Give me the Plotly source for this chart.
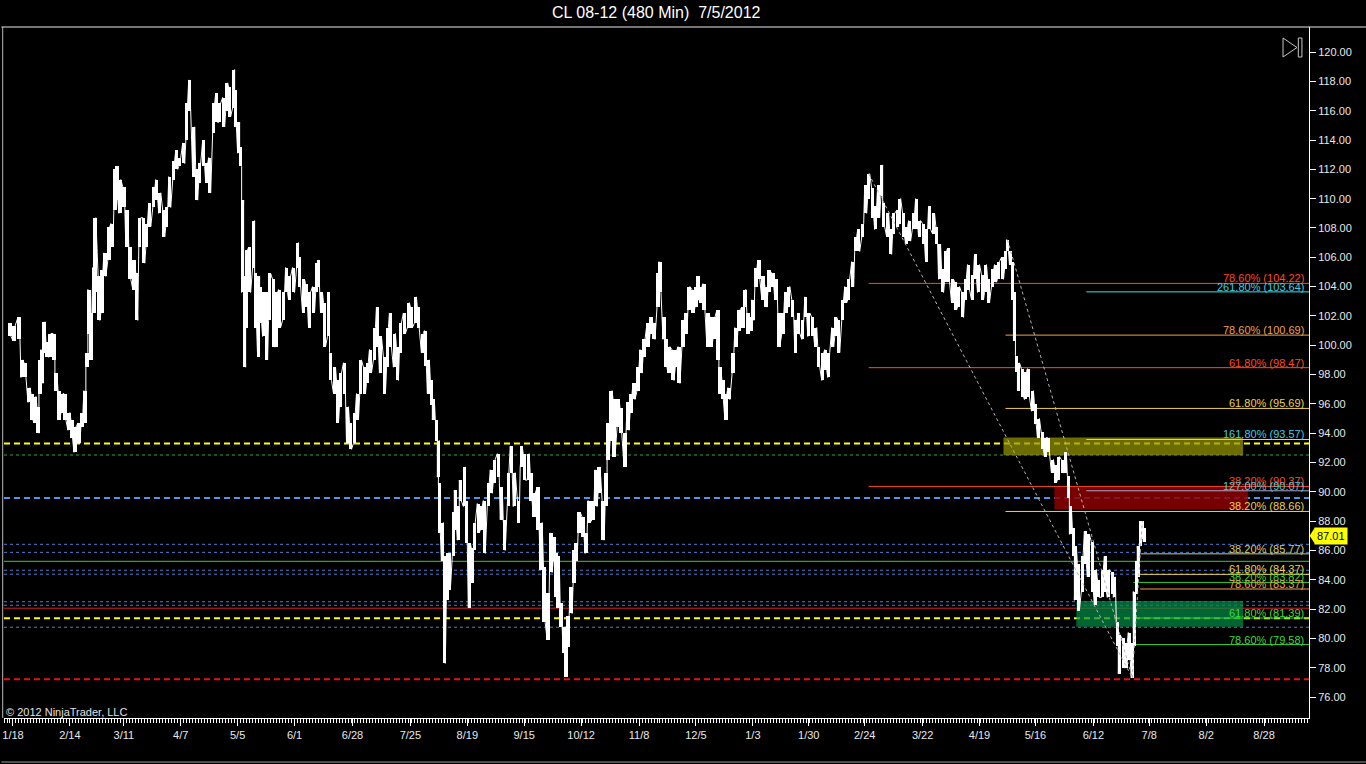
import plotly.graph_objects as go

# --- datos: barras de 480 min (indice de barra, maximo, minimo) ---
bars = [8, 12, 17, 20, 23, 27, 30, 33, 36, 38, 40, 42, 45, 48, 52, 54, 57, 60, 63, 67,
        70, 73, 77, 80, 83, 85, 87, 89, 92, 93, 97, 100, 103, 107, 110, 113, 115, 118, 122, 125,
        128, 132, 135, 138, 142, 145, 148, 152, 155, 158, 162, 165, 168, 172, 175, 178, 182, 185, 188, 192,
        195, 198, 202, 205, 208, 212, 215, 218,
        222, 225, 228, 232, 234, 237, 239, 241, 243, 245, 248, 252, 254, 257, 259, 262, 265, 268, 272, 275,
        278, 282, 285, 288, 292, 296, 298, 302, 305, 308, 312, 315, 317, 320, 323, 327, 329, 333, 336, 339,
        343, 346, 349, 353, 356, 359, 363, 366, 369, 373, 376, 379, 383, 386, 389, 393, 396, 399, 403, 407,
        410, 414, 417, 421, 424, 427, 430, 432, 435, 437,
        438, 441, 443, 446, 448, 452, 454, 457, 459, 463, 465, 468, 471, 473, 477, 480, 483, 487, 490, 493,
        497, 500, 503, 507, 510, 513, 517, 520, 523, 527, 530, 533, 537, 540, 543, 547, 550, 553, 555, 557,
        560, 563, 565, 567, 570, 573, 575, 578, 582, 585, 588, 592, 595, 598, 602, 605, 607, 610, 613, 617,
        620, 624, 627, 630, 633, 637, 640, 643, 647, 650, 653, 657, 659,
        663, 665, 668, 672, 675, 678, 682, 685, 688, 692, 695, 697, 700, 703, 707, 710, 713, 717, 719, 722,
        725, 728, 732, 735, 738, 742, 744, 747, 750, 752, 755, 758, 762, 765, 768, 772, 775, 778, 782, 785,
        788, 792, 795, 798, 802, 805, 808, 812, 815, 818, 822, 825, 828, 832, 835, 838, 842, 845, 848, 852,
        855, 858,
        862, 865, 868, 872, 875, 878, 881, 883, 887, 890, 893, 897, 899, 903, 906, 909, 913, 916, 919, 923,
        926, 929, 933, 936, 939, 942, 945, 948, 952, 955, 958, 962, 965, 968, 972, 975, 978, 982, 985, 988,
        992, 995, 998, 1002, 1005, 1007, 1010, 1012, 1014, 1016, 1018, 1022, 1025, 1028, 1032, 1035, 1038, 1042, 1045, 1048,
        1052, 1055, 1058, 1062, 1065, 1068, 1070, 1073, 1075, 1078, 1082, 1085, 1088, 1092, 1095, 1098, 1102, 1105, 1108, 1112,
        1114, 1117, 1119, 1123, 1126, 1129, 1132, 1134, 1136, 1138, 1140, 1142, 1144]

highs = [101.5, 101.3, 101.9, 99.0, 98.8, 97.1, 96.7, 96.5, 95.8, 99.0, 99.7, 101.6, 100.2, 100.8, 100.8, 98.1, 96.9, 96.7, 96.7, 95.4,
         94.9, 94.4, 94.7, 95.4, 96.9, 99.5, 103.8, 102.2, 105.3, 108.7, 104.7, 105.1, 106.3, 108.1, 108.3, 112.0, 112.2, 111.3, 110.8, 109.2,
         106.7, 105.8, 104.9, 108.7, 108.7, 108.3, 109.7, 110.8, 111.3, 110.4, 109.2, 109.4, 111.5, 112.6, 113.3, 112.8, 113.8, 116.5, 118.1, 114.9,
         112.0, 112.4, 114.0, 112.4, 112.8, 116.5, 117.2, 116.5,
         116.9, 117.9, 117.6, 118.8, 117.4, 115.2, 113.5, 109.9, 104.7, 106.5, 106.7, 108.5, 104.9, 104.7, 104.0, 103.6, 103.6, 104.9, 104.5, 103.6,
         103.8, 103.6, 105.3, 104.7, 105.3, 107.0, 106.0, 104.5, 104.2, 103.6, 104.0, 105.6, 105.8, 103.6, 102.9, 103.6, 99.5, 98.5, 97.6, 98.1,
         98.8, 95.8, 94.7, 95.4, 96.7, 99.0, 98.5, 98.8, 99.7, 101.2, 102.6, 100.6, 99.2, 101.2, 102.2, 100.8, 99.9, 101.5, 102.2, 102.9,
         102.6, 103.3, 102.6, 100.8, 101.0, 99.0, 97.6, 96.3, 94.9, 93.5,
         90.6, 87.9, 85.6, 85.8, 85.8, 88.6, 90.1, 89.0, 90.8, 91.7, 89.4, 86.5, 86.2, 87.9, 89.2, 89.0, 89.4, 90.6, 91.5, 92.2,
         92.6, 90.3, 88.1, 91.3, 93.1, 91.3, 89.4, 93.1, 92.6, 92.6, 91.3, 89.9, 90.3, 87.9, 84.9, 83.1, 87.2, 86.9, 85.8, 85.6,
         82.4, 80.8, 79.9, 81.5, 83.5, 86.0, 86.5, 88.6, 88.3, 87.2, 89.4, 89.4, 91.5, 91.7, 89.4, 91.3, 94.7, 96.9, 96.3, 96.3,
         95.7, 94.0, 96.1, 96.7, 97.4, 98.5, 99.7, 100.4, 101.5, 101.9, 101.5, 104.9, 105.7,
         101.9, 100.4, 99.9, 99.7, 99.7, 99.9, 101.7, 102.2, 104.0, 103.8, 104.0, 104.7, 104.0, 104.2, 102.2, 101.9, 101.9, 102.4, 98.5, 97.6,
         96.7, 97.1, 99.5, 101.2, 102.4, 102.6, 103.8, 102.2, 101.9, 103.1, 105.3, 105.8, 104.7, 104.0, 105.1, 104.9, 104.5, 102.2, 102.2, 103.6,
         104.0, 103.1, 101.7, 102.2, 101.7, 103.3, 102.2, 101.9, 101.2, 99.9, 99.5, 99.7, 99.5, 101.2, 101.9, 101.7, 103.1, 104.0, 104.5, 105.7,
         107.4, 107.9,
         108.3, 110.9, 111.7, 110.7, 109.5, 110.9, 112.3, 109.7, 109.0, 107.9, 109.0, 109.2, 110.0, 109.0, 108.1, 108.5, 109.0, 110.0, 108.5, 108.3,
         107.9, 109.5, 109.0, 108.1, 106.9, 105.2, 106.4, 106.6, 104.5, 104.3, 104.0, 103.6, 104.5, 105.5, 104.8, 106.2, 105.5, 104.8, 105.5, 104.5,
         105.2, 105.5, 105.7, 106.0, 106.4, 107.2, 106.4, 105.7, 103.6, 99.3, 98.8, 98.4, 98.2, 98.4, 96.9, 96.0, 95.0, 94.1, 93.7, 93.7,
         92.2, 91.8, 92.4, 92.2, 92.7, 91.1, 89.0, 87.5, 86.3, 85.1, 85.6, 87.3, 87.1, 86.6, 84.7, 84.0, 84.7, 85.6, 84.7, 84.5,
         84.2, 81.1, 80.2, 80.0, 79.7, 80.4, 79.7, 83.2, 85.3, 86.3, 88.0, 88.0, 87.5]

lows = [100.6, 100.3, 100.4, 97.8, 97.8, 96.1, 94.9, 94.7, 94.0, 96.7, 97.4, 99.5, 99.2, 99.2, 99.0, 96.9, 94.9, 95.4, 94.9, 94.2,
        93.7, 92.7, 93.3, 94.4, 94.7, 98.5, 100.8, 99.0, 102.2, 103.6, 101.7, 102.2, 104.7, 105.8, 106.7, 109.2, 109.9, 109.0, 109.4, 106.7,
        104.5, 103.8, 101.7, 106.7, 105.6, 106.7, 108.1, 109.4, 109.9, 109.0, 107.4, 108.1, 109.4, 111.3, 112.0, 112.2, 112.4, 114.0, 116.0, 111.5,
        109.9, 111.1, 112.2, 111.1, 110.4, 114.5, 115.2, 115.2,
        114.9, 116.0, 115.6, 116.2, 114.9, 113.1, 112.2, 103.6, 98.5, 101.2, 103.6, 105.3, 101.2, 99.2, 101.5, 100.6, 99.0, 101.7, 99.9, 99.9,
        101.2, 101.7, 103.6, 103.1, 103.6, 105.3, 104.0, 102.2, 102.6, 101.2, 102.2, 103.6, 104.0, 102.2, 99.9, 100.6, 97.6, 96.7, 94.7, 95.8,
        96.7, 93.3, 92.9, 93.3, 94.9, 96.7, 96.7, 97.4, 98.1, 99.0, 99.9, 98.1, 96.7, 98.5, 99.9, 98.5, 97.6, 99.5, 100.8, 101.2,
        101.2, 101.5, 101.2, 99.5, 98.6, 96.7, 95.9, 94.9, 93.5, 91.0,
        87.2, 85.3, 78.3, 82.6, 83.3, 85.6, 87.4, 86.7, 89.4, 89.0, 86.5, 82.1, 83.8, 86.0, 87.2, 87.4, 85.8, 89.0, 89.9, 90.6,
        91.0, 88.1, 86.0, 89.0, 91.3, 89.0, 87.9, 91.7, 90.8, 90.8, 89.4, 88.3, 87.4, 84.7, 81.1, 79.9, 84.5, 85.3, 82.8, 82.1,
        80.8, 79.0, 77.4, 79.4, 81.7, 83.8, 85.3, 87.2, 86.9, 85.8, 87.9, 88.1, 89.0, 89.9, 86.7, 89.0, 92.2, 93.5, 92.4, 94.4,
        94.0, 91.7, 94.2, 95.4, 96.3, 96.9, 98.1, 99.2, 99.9, 100.8, 100.4, 102.6, 103.6,
        100.4, 98.5, 98.1, 97.6, 98.5, 97.4, 99.9, 100.8, 102.4, 102.2, 102.6, 103.1, 102.9, 102.4, 99.9, 99.9, 100.4, 99.0, 96.7, 96.3,
        94.9, 96.3, 98.1, 99.9, 101.0, 101.2, 102.6, 100.8, 101.0, 101.7, 104.0, 104.5, 103.1, 102.6, 103.6, 104.0, 103.1, 99.9, 100.8, 102.2,
        102.6, 101.9, 99.5, 100.8, 100.4, 101.9, 100.6, 100.6, 99.9, 98.5, 97.6, 98.3, 97.8, 99.9, 100.6, 99.5, 101.7, 102.9, 103.1, 104.0,
        106.4, 106.4,
        107.4, 109.0, 110.0, 108.7, 107.9, 108.7, 110.2, 108.1, 107.4, 106.2, 107.6, 108.1, 108.3, 107.4, 106.9, 107.1, 107.9, 107.9, 107.4, 106.9,
        105.7, 107.9, 107.6, 106.9, 104.5, 103.6, 104.3, 104.3, 102.9, 102.4, 102.6, 101.9, 103.1, 103.8, 103.1, 104.5, 103.6, 103.1, 103.6, 102.9,
        104.0, 104.3, 104.5, 104.5, 105.2, 106.4, 105.5, 103.1, 100.3, 98.2, 96.9, 96.5, 96.3, 96.5, 95.5, 94.6, 93.7, 92.9, 92.4, 92.7,
        91.3, 90.6, 90.8, 91.3, 91.3, 89.6, 87.1, 85.6, 82.6, 81.9, 83.2, 85.1, 84.2, 83.2, 82.3, 82.8, 82.8, 83.2, 82.8, 83.0,
        82.8, 79.5, 77.6, 78.0, 78.0, 78.5, 77.3, 79.5, 83.0, 84.2, 86.3, 86.8, 86.6]

last_close = 87.01

# eje X: etiquetas de fecha en su indice de barra
tick_bars = [11, 68, 122, 179, 236, 293, 351, 409, 466, 523, 580, 638, 695, 752, 808, 864, 922, 979, 1035, 1093, 1149, 1206, 1264]
tick_dates = ['1/18', '2/14', '3/11', '4/7', '5/5', '6/1', '6/28', '7/25', '8/19', '9/15', '10/12', '11/8',
              '12/5', '1/3', '1/30', '2/24', '3/22', '4/19', '5/16', '6/12', '7/8', '8/2', '8/28']
price_ticks = list(range(76, 121, 2))

# niveles horizontales de todo el ancho
level_price = [93.29, 92.51, 89.57, 86.42, 85.87, 85.26, 84.65, 84.38, 82.50, 82.26, 82.06, 81.37, 80.76, 77.21]
level_kind = ['yel', 'gdot', 'bdash', 'bdot', 'bdot', 'green', 'bdot', 'bdot', 'bdot', 'bdot', 'red', 'yel', 'bdot', 'rdash']

# retrocesos / extensiones de Fibonacci
fib_price = [104.22, 103.64, 100.69, 98.47, 95.69, 93.57, 90.37, 90.07, 88.66, 85.77, 84.37, 83.82, 83.37, 81.39, 79.58]
fib_ratio = ['78.60%', '261.80%', '78.60%', '61.80%', '61.80%', '161.80%', '38.20%', '127.00%', '38.20%',
             '38.20%', '61.80%', '38.20%', '78.60%', '61.80%', '78.60%']
fib_start = [868, 1086, 1005, 868, 1005, 1086, 868, 1086, 1005, 1140, 1140, 1133, 1140, 1133, 1133]
fib_kind = ['ored', 'cyan', 'sandy', 'ored', 'gold', 'aqua', 'ored', 'steel', 'gold',
            'khaki', 'gold', 'lime', 'sandy', 'lime', 'lime']

# zonas sombreadas
zone_start = [1003, 1054, 1076]
zone_end = [1243, 1248, 1243]
zone_lo = [92.5, 88.8, 80.8]
zone_hi = [93.7, 90.35, 82.55]
zone_color = ['rgba(150,150,0,0.72)', 'rgba(140,0,0,0.85)', 'rgba(0,140,70,0.72)']

# pivotes de las lineas de tendencia punteadas
swing_bar = [868, 1007, 1132, 1142]
swing_px = [111.7, 107.2, 77.3, 88.0]

FONT = 'Arial, Liberation Sans, sans-serif'
LEVEL_STYLE = {
    'yel': dict(color='#FFFF00', width=2, dash='6px,4px'),
    'gdot': dict(color='#2FA82F', width=1, dash='dot'),
    'bdash': dict(color='#4F95E8', width=2, dash='6px,4px'),
    'bdot': dict(color='#4A7ED6', width=1, dash='dot'),
    'green': dict(color='#3CC83C', width=1),
    'red': dict(color='#D42020', width=1),
    'rdash': dict(color='#E81010', width=2, dash='6px,4px'),
}
FIB_LINE = {'ored': '#FF4A20', 'cyan': '#40E0D8', 'sandy': '#F0A050', 'gold': '#EED24A',
            'aqua': '#7FF5C8', 'steel': '#A8A8D0', 'khaki': '#DCC860', 'lime': '#38CC38'}
FIB_TEXT = {'ored': '#FF4A20', 'cyan': '#40CCE0', 'sandy': '#F0A050', 'gold': '#EED24A',
            'aqua': '#40CCE0', 'steel': '#40CCE0', 'khaki': '#DCC860', 'lime': '#38DD38'}

X_END = 1309
Y_MIN, Y_MAX = 74.57, 121.71

fig = go.Figure()

shapes = []
for x0, x1, lo, hi, c in zip(zone_start, zone_end, zone_lo, zone_hi, zone_color):
    shapes.append(dict(type='rect', xref='x', yref='y', x0=x0, x1=x1, y0=lo, y1=hi,
                       fillcolor=c, line_width=0, layer='below'))
for p, k in zip(level_price, level_kind):
    shapes.append(dict(type='line', xref='paper', yref='y', x0=0, x1=1, y0=p, y1=p,
                       line=LEVEL_STYLE[k], layer='below'))
for p, s, k in zip(fib_price, fib_start, fib_kind):
    shapes.append(dict(type='line', xref='x', yref='y', x0=s, x1=X_END, y0=p, y1=p,
                       line=dict(color=FIB_LINE[k], width=1), layer='below'))

# barras de precio
fig.add_trace(go.Bar(
    x=bars, y=[h - l for h, l in zip(highs, lows)], base=lows,
    width=3.4, marker=dict(color='white', line_width=0),
    hoverinfo='skip', showlegend=False
))

# trazo fino que une maximos y minimos, da la textura de barras apretadas
zx, zy = [], []
for i, (b, h, l) in enumerate(zip(bars, highs, lows)):
    if i % 2 == 0:
        zx += [b - 1, b + 1]
        zy += [h, l]
    else:
        zx += [b - 1, b + 1]
        zy += [l, h]
fig.add_trace(go.Scatter(
    x=zx, y=zy, mode='lines', line=dict(color='white', width=1),
    hoverinfo='skip', showlegend=False
))

# lineas de tendencia punteadas
for a, b in [(0, 2), (1, 2), (2, 3)]:
    fig.add_trace(go.Scatter(
        x=[swing_bar[a], swing_bar[b]], y=[swing_px[a], swing_px[b]],
        mode='lines', line=dict(color='#B4B4B4', width=1, dash='dot'),
        hoverinfo='skip', showlegend=False
    ))

annotations = []
for p, r, k in zip(fib_price, fib_ratio, fib_kind):
    annotations.append(dict(
        xref='paper', yref='y', x=1, y=p, xanchor='right', yanchor='bottom',
        xshift=-3, yshift=-3, showarrow=False, text=f'{r} ({p:.2f})',
        font=dict(family=FONT, size=11, color=FIB_TEXT[k])
    ))

# precio actual en el eje
annotations.append(dict(
    xref='paper', yref='y', x=1, y=last_close, xanchor='left', yanchor='middle',
    xshift=5, showarrow=False, text=f'{last_close:.2f}', bgcolor='#FFFF00', borderpad=2,
    font=dict(family=FONT, size=11, color='black')
))
shapes.append(dict(type='path', xref='paper', yref='y',
                   path=f'M 1.0005,{last_close} L 1.0045,{last_close + 0.56} L 1.0045,{last_close - 0.56} Z',
                   fillcolor='#FFFF00', line_width=0))

# titulo y copyright
annotations.append(dict(
    xref='paper', yref='paper', x=0.5, y=1.0203, xanchor='center', yanchor='middle',
    showarrow=False, text='CL 08-12 (480 Min)\u00a0 7/5/2012',
    font=dict(family=FONT, size=16, color='white')
))
annotations.append(dict(
    xref='paper', yref='paper', x=0, y=0.0087, xanchor='left', yanchor='middle', xshift=0,
    showarrow=False, text='© 2012 NinjaTrader, LLC',
    font=dict(family=FONT, size=11, color='#E0E0E0')
))

# marco del panel e icono
shapes += [
    dict(type='line', xref='paper', yref='paper', x0=-0.002, x1=1.0436, y0=1, y1=1,
         line=dict(color='#E8E8E8', width=1)),
    dict(type='line', xref='paper', yref='paper', x0=-0.001, x1=-0.001, y0=0, y1=1,
         line=dict(color='#BBBBBB', width=1)),
    dict(type='line', xref='paper', yref='paper', x0=-0.002, x1=1.0436, y0=-0.0637, y1=-0.0637,
         line=dict(color='#9A9A9A', width=1)),
    dict(type='path', xref='paper', yref='paper',
         path='M 0.9801,0.9841 L 0.9801,0.9566 L 0.9908,0.9703 Z',
         line=dict(color='#C8C8C8', width=1)),
    dict(type='rect', xref='paper', yref='paper', x0=0.9918, x1=0.9946, y0=0.9566, y1=0.9841,
         line=dict(color='#C8C8C8', width=1)),
]

fig.update_layout(
    width=1366, height=764,
    margin=dict(l=2, r=57, t=27, b=46),
    paper_bgcolor='black', plot_bgcolor='black',
    showlegend=False, bargap=0,
    shapes=shapes, annotations=annotations,
    font=dict(family=FONT, color='white'),
)

fig.update_xaxes(
    range=[2, X_END], showgrid=False, zeroline=False,
    tickmode='array', tickvals=tick_bars, ticktext=tick_dates,
    ticks='outside', ticklen=7, tickcolor='white',
    showline=True, linecolor='white', linewidth=1,
    tickfont=dict(family=FONT, size=11, color='#E8E8E8'),
    minor=dict(tickmode='linear', tick0=11, dtick=3, ticks='outside', ticklen=4,
               tickcolor='white', showgrid=False)
)
fig.update_yaxes(
    range=[Y_MIN, Y_MAX], side='right', showgrid=False, zeroline=False,
    tickmode='array', tickvals=price_ticks, ticktext=[f'{v:.2f}' for v in price_ticks],
    ticks='outside', ticklen=6, tickcolor='white',
    showline=True, linecolor='white', linewidth=1,
    tickfont=dict(family=FONT, size=11, color='#E8E8E8')
)

# la pagina trae 8px de margen en el body: se quita para que el grafico quede a ras
fig.write_html('out.html', config={'displayModeBar': False},
               post_script="document.body.style.margin='0';document.body.style.background='black';")
